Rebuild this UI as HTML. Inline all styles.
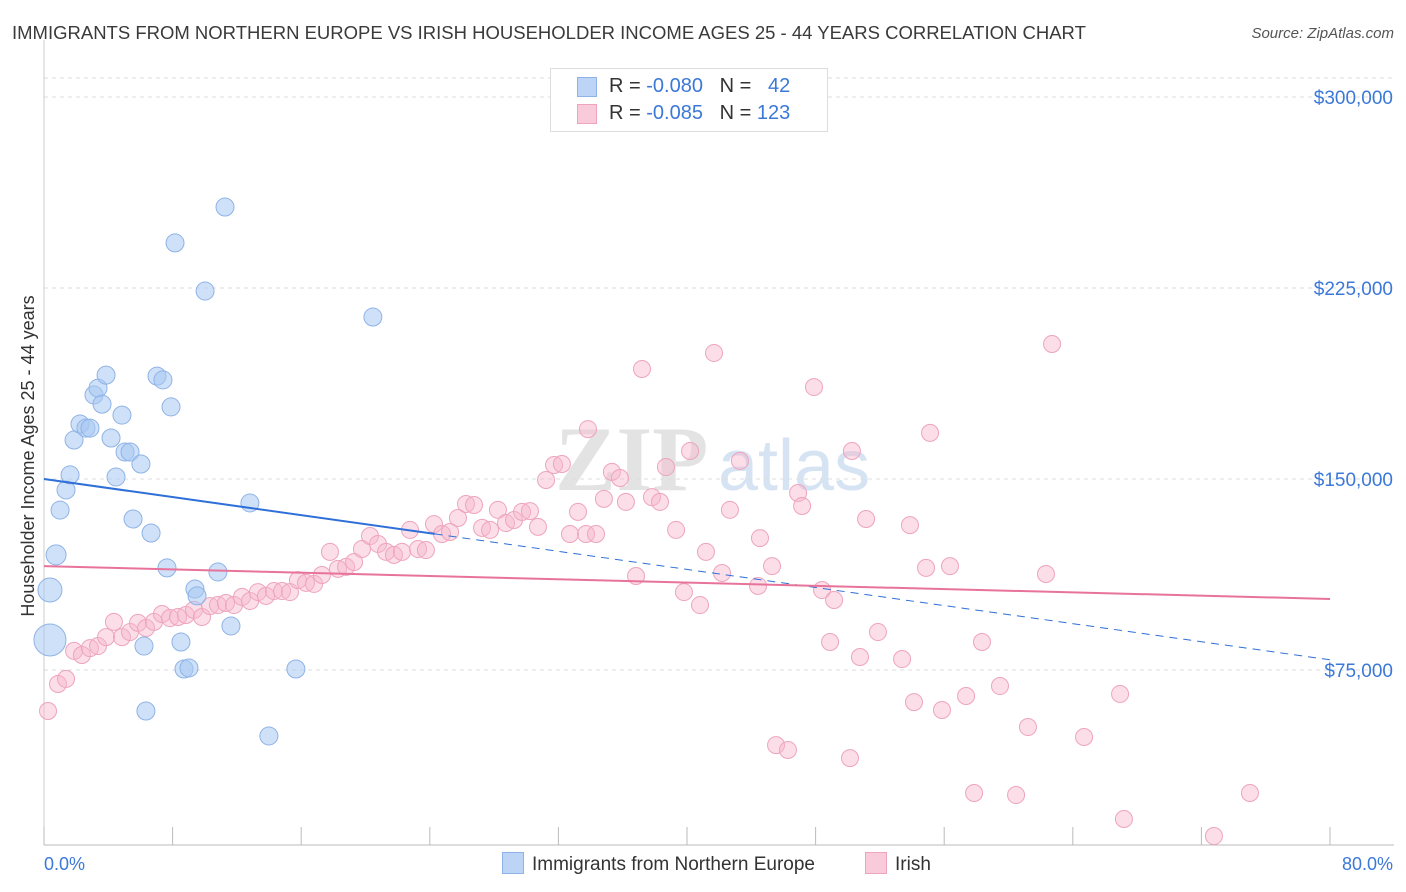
<!DOCTYPE html>
<html><head><meta charset="utf-8">
<style>
body{margin:0;background:#fff;font-family:"Liberation Sans",sans-serif;}
#wrap{position:relative;width:1406px;height:892px;overflow:hidden;}
.t{position:absolute;white-space:nowrap;}
</style></head>
<body>
<div id="wrap">
<div class="t" style="left:12px;top:22px;font-size:18.5px;color:#3a3a3a;">IMMIGRANTS FROM NORTHERN EUROPE VS IRISH HOUSEHOLDER INCOME AGES 25 - 44 YEARS CORRELATION CHART</div>
<div class="t" style="right:12px;top:25px;font-size:15px;color:#555;font-style:italic;">Source: ZipAtlas.com</div>
<svg id="svg" width="1406" height="892" style="position:absolute;left:0;top:0"></svg>
</div>
<script>
const xTicks=[0,8,16,24,32,40,48,56,64,72,80];
const yTicks=[75000,150000,225000,300000];
const yTickLabels=["$75,000","$150,000","$225,000","$300,000"];
const blueX=[0.37,0.37,0.75,1.0,1.37,1.62,1.87,2.24,2.61,2.86,3.11,3.36,3.61,3.86,4.17,4.48,4.85,5.04,5.35,5.54,6.03,6.22,6.34,6.66,7.03,7.40,7.65,7.90,8.15,8.52,8.71,9.02,9.39,9.52,10.02,10.82,11.26,11.63,12.81,13.99,15.67,20.46];
const blueY=[86.8,106.4,120.2,137.8,145.7,151.6,165.3,171.6,170.0,170.0,183.0,185.7,179.4,190.8,166.1,150.8,175.1,160.6,160.6,134.3,155.9,84.4,58.9,128.8,190.4,188.9,115.1,178.3,242.7,86.0,75.4,75.8,106.8,104.1,223.8,113.5,256.8,92.3,140.6,49.1,75.4,213.6];
const blueR=[16,12,10,9,9,9,9,9,9,9,9,9,9,9,9,9,9,9,9,9,9,9,9,9,9,9,9,9,9,9,9,9,9,9,9,9,9,9,9,9,9,9];
const pinkX=[0.25,0.87,1.37,1.87,2.36,2.86,3.36,3.86,4.35,4.85,5.35,5.85,6.35,6.84,7.34,7.84,8.34,8.83,9.33,9.83,10.33,10.82,11.32,11.82,12.32,12.82,13.31,13.81,14.31,14.81,15.30,15.80,16.30,16.80,17.29,17.79,18.29,18.79,19.29,19.78,20.28,20.78,21.28,21.77,22.27,22.77,23.27,23.76,24.26,24.76,25.26,25.75,26.25,26.75,27.25,27.75,28.24,28.74,29.24,29.74,30.23,30.73,31.23,31.73,32.22,32.72,33.22,33.72,33.84,34.34,34.83,35.33,35.83,36.20,36.83,37.20,37.82,38.32,38.69,39.32,39.81,40.19,40.81,41.18,41.68,42.18,42.67,43.29,44.54,44.42,45.29,45.54,46.28,46.91,47.16,47.90,48.40,48.90,49.15,50.14,50.26,50.76,51.14,51.88,53.38,53.87,54.12,54.87,55.12,55.86,56.36,57.36,57.86,58.35,59.47,60.47,61.21,62.33,62.71,64.70,66.94,67.18,72.78,75.02];
const pinkY=[58.9,69.5,71.5,82.5,80.9,83.6,84.4,87.9,93.9,87.9,89.9,93.5,91.5,93.9,97.0,95.4,95.8,96.6,98.6,95.8,100.1,100.5,101.3,100.5,103.7,102.1,105.6,104.1,106.0,106.0,105.6,110.3,109.2,108.8,112.3,121.4,114.7,115.5,117.4,122.5,127.6,124.5,121.4,120.2,121.4,130.0,122.5,122.1,132.3,128.4,129.2,134.7,140.2,139.8,130.8,130.0,137.9,132.7,133.9,137.1,137.4,131.2,149.6,155.5,155.9,128.4,137.1,128.4,169.6,128.4,142.2,152.8,150.4,141.0,111.9,193.2,142.9,141.0,154.7,130.0,105.6,161.0,100.5,121.4,199.5,113.1,137.9,157.1,126.8,108.0,115.8,45.5,43.6,144.5,139.4,186.1,106.4,86.0,102.5,40.4,161.0,80.1,134.3,89.9,79.3,131.9,62.4,115.1,168.1,59.3,115.8,64.8,26.7,86.0,68.7,25.9,52.6,112.7,203.0,48.7,65.6,16.5,9.8,26.7];
const blueTrend=[150.0,79.0];
const blueSolidEnd=24.3;
const pinkTrend=[115.8,102.9];

const X=v=>44+v/80*1286;
const Y=k=>97+(300-k)/75*191;
const svg=document.getElementById('svg');
const NS='http://www.w3.org/2000/svg';
function mk(t,a){const e=document.createElementNS(NS,t);for(const k in a)e.setAttribute(k,a[k]);svg.appendChild(e);return e;}

let w=mk('text',{x:555,y:490,'font-size':92,fill:'#e3e3e3','font-family':'Liberation Serif,serif','font-weight':'bold'});w.textContent='ZIP';


let w2=mk('text',{x:718,y:490,'font-size':72,fill:'#d6e3f3','font-family':'Liberation Sans,sans-serif'});w2.textContent='atlas';



let tg=mk('line',{x1:44,x2:1394,y1:78,y2:78,stroke:'#ddd','stroke-dasharray':'4,4'});


yTicks.forEach((v,i)=>{
 const y=Y(v/1000);
 const g=mk('line',{x1:44,x2:1394,y1:y,y2:y,stroke:'#ddd','stroke-dasharray':'4,4'});
 
 
 const t=mk('text',{x:1393,y:y+7,'text-anchor':'end','font-size':19,fill:'#3b78d8'});
 t.textContent=yTickLabels[i];
 
 
});
let ax=mk('line',{x1:44,x2:1394,y1:845,y2:845,stroke:'#bbb'});


let ay=mk('line',{x1:44,x2:44,y1:40,y2:845,stroke:'#ccc'});


xTicks.forEach(v=>{
 const tk=mk('line',{x1:X(v),x2:X(v),y1:827,y2:845,stroke:'#bbb'});
 
 
});
let xl=mk('text',{x:44,y:870,'font-size':18,fill:'#3b78d8'});xl.textContent=xTicks[0].toFixed(1)+'%';


let xr=mk('text',{x:1393,y:870,'text-anchor':'end','font-size':18,fill:'#3b78d8'});xr.textContent=xTicks[xTicks.length-1].toFixed(1)+'%';


let yt=mk('text',{x:0,y:0,'font-size':18,fill:'#333','text-anchor':'middle',transform:'translate(34,456) rotate(-90)'});yt.textContent='Householder Income Ages 25 - 44 years';



pinkX.forEach((v,i)=>{
 const c=mk('circle',{cx:X(v),cy:Y(pinkY[i]),r:8.5,fill:'rgba(247,182,204,0.45)',stroke:'#eea4bd','stroke-width':1});
 
 
});
blueX.forEach((v,i)=>{
 const c=mk('circle',{cx:X(v),cy:Y(blueY[i]),r:blueR[i],fill:'rgba(168,200,242,0.55)',stroke:'#8fb3e6','stroke-width':1});
 
 
});
const by=x=>blueTrend[0]+(blueTrend[1]-blueTrend[0])*x/80;
let b1=mk('line',{x1:X(0),y1:Y(by(0)),x2:X(blueSolidEnd),y2:Y(by(blueSolidEnd)),stroke:'#2e6fd8','stroke-width':2});


let b2=mk('line',{x1:X(blueSolidEnd),y1:Y(by(blueSolidEnd)),x2:X(80),y2:Y(by(80)),stroke:'#2e6fd8','stroke-width':1,'stroke-dasharray':'8,6'});


let p1=mk('line',{x1:X(0),y1:Y(pinkTrend[0]),x2:X(80),y2:Y(pinkTrend[1]),stroke:'#e8739a','stroke-width':2});


</script>
<div class="t" style="left:550px;top:68px;width:276px;height:62px;border:1px solid #ddd;background:#fff;font-size:20px;color:#333;">
 <div style="position:absolute;left:26px;top:8px;width:18px;height:18px;background:#bcd4f5;border:1px solid #8fb3e6;"></div>
 <div class="t" style="left:58px;top:6px;">R = <span style="color:#3b78d8">-0.080</span>&nbsp;&nbsp;&nbsp;N = &nbsp;&nbsp;<span style="color:#3b78d8">42</span></div>
 <div style="position:absolute;left:26px;top:35px;width:18px;height:18px;background:#f9cada;border:1px solid #eea4bd;"></div>
 <div class="t" style="left:58px;top:33px;">R = <span style="color:#3b78d8">-0.085</span>&nbsp;&nbsp;&nbsp;N = <span style="color:#3b78d8">123</span></div>
</div>
<div class="t" style="left:502px;top:852px;font-size:19px;color:#333;">
 <span style="display:inline-block;width:20px;height:20px;background:#bcd4f5;border:1px solid #8fb3e6;vertical-align:-4px;margin-right:8px;"></span>Immigrants from Northern Europe</div>
<div class="t" style="left:865px;top:852px;font-size:19px;color:#333;">
 <span style="display:inline-block;width:20px;height:20px;background:#f9cada;border:1px solid #eea4bd;vertical-align:-4px;margin-right:8px;"></span>Irish</div>
</body></html>
